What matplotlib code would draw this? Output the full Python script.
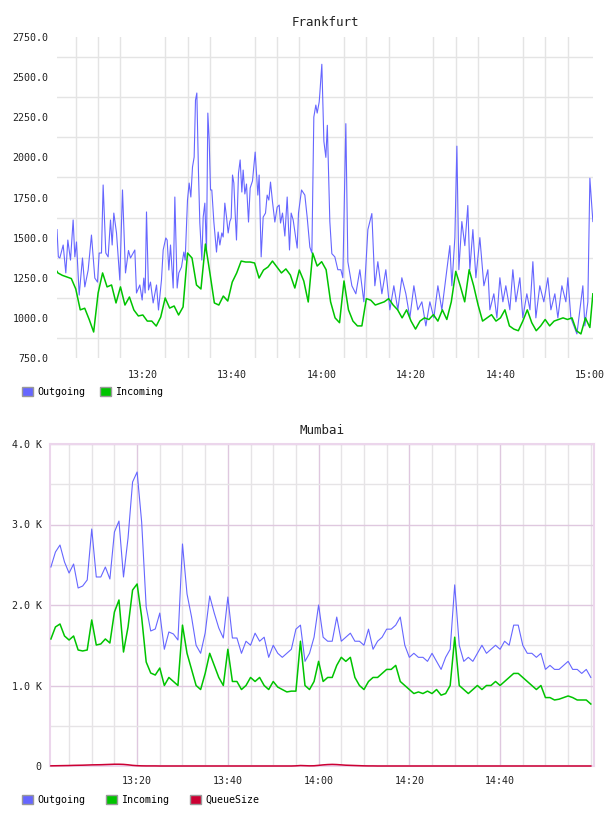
import matplotlib
matplotlib.use("Agg")
import matplotlib.pyplot as plt
from matplotlib.patches import Patch
from matplotlib.ticker import FixedLocator, FuncFormatter
import numpy as np

# minutes after 13:00
X_MIN, X_MAX = 0.8, 120.7

# ---------- Frankfurt ----------
fra_out_t = [0.8, 1.1, 1.43, 2.18, 2.77, 3.22, 3.82, 4.41, 4.79, 5.16, 5.76, 6.50, 7.02, 7.77,
             8.51, 9.26, 9.86, 10.23, 10.75, 11.12, 11.72, 12.24, 12.77, 13.14, 13.51, 14.11,
             14.85, 15.45, 16.12, 16.79, 17.24, 18.21, 18.58, 19.33, 19.85, 20.22, 20.52, 20.82,
             21.27, 21.71, 22.31, 23.06, 23.50, 24.17, 24.55, 25.14, 25.44, 25.82, 26.19, 26.79,
             27.16, 27.68, 28.05, 28.65, 29.17, 29.47, 29.99, 30.36, 30.74, 31.11, 31.48, 31.78,
             32.08, 32.45, 32.75, 33.20, 33.50, 33.87, 34.24, 34.54, 34.84, 35.14, 35.43, 35.88,
             36.48, 36.85, 37.23, 37.67, 37.97, 38.34, 38.72, 39.09, 39.46, 39.76, 40.06, 40.36,
             40.65, 40.95, 41.40, 41.77, 42.15, 42.44, 42.82, 43.19, 43.64, 44.01, 44.53, 45.13,
             45.43, 45.73, 46.02, 46.47, 46.92, 47.44, 47.81, 48.19, 48.56, 49.01, 49.53, 50.05,
             50.50, 50.80, 51.24, 51.77, 52.29, 52.81, 53.18, 53.63, 54.53, 54.82, 55.50, 56.24,
             56.76, 57.36, 57.81, 58.25, 58.70, 59.00, 59.45, 59.6, 60.04, 60.5, 60.94, 61.27,
             61.83, 62.28, 62.95, 63.62, 64.3, 64.74, 65.41, 65.86, 66.76, 67.65, 68.55, 69.44,
             70.34, 71.23, 71.9, 72.57, 73.47, 74.36, 75.26, 76.15, 77.05, 77.94, 78.84, 79.73,
             80.63, 81.52, 82.42, 83.31, 84.21, 85.1, 86.0, 86.89, 87.79, 88.68, 89.13, 89.8,
             90.25, 90.69, 91.36, 92.03, 92.7, 93.15, 93.83, 94.5, 95.39, 96.29, 97.18, 97.63,
             98.52, 99.2, 99.87, 100.54, 101.2, 102.1, 102.77, 103.45, 104.34, 105.0, 105.9,
             106.6, 107.25, 107.92, 108.8, 109.7, 110.6, 111.28, 112.17, 112.84, 113.74, 114.63,
             115.08, 115.75, 116.42, 117.1, 117.76, 118.43, 118.88, 119.55, 120.0, 120.67]
fra_out = [1550, 1380, 1373, 1454, 1280, 1485, 1360, 1610, 1380, 1473, 1142, 1373, 1193, 1298,
           1516, 1248, 1223, 1404, 1404, 1828, 1404, 1380, 1610, 1454, 1653, 1529,
           1236, 1797, 1280, 1420, 1373, 1423, 1155, 1205, 1111, 1248, 1155, 1660,
           1174, 1223, 1093, 1205, 1049, 1236, 1423, 1498, 1485, 1298, 1454, 1186,
           1753, 1186, 1280, 1317, 1410, 1360, 1734, 1840, 1753, 1940, 2002, 2357,
           2401, 1902, 1591, 1360, 1628, 1715, 1404, 2276, 2108, 1797, 1797, 1600,
           1410, 1535, 1454, 1529, 1504, 1715, 1628, 1529, 1600, 1622, 1890, 1840,
           1653, 1485, 1902, 1984, 1784, 1921, 1772, 1834, 1597, 1809, 1853, 2033,
           1902, 1765, 1890, 1380, 1628, 1653, 1765, 1734, 1846, 1722, 1597, 1690,
           1703, 1591, 1653, 1510, 1753, 1423, 1653, 1610, 1435, 1653, 1797, 1765,
           1628, 1441, 1404, 2251, 2326, 2276, 2345, 2400, 2580, 2100, 2000, 2200,
           1600, 1400, 1380, 1300, 1300, 1250, 2210, 1350, 1200, 1150, 1300, 1100,
           1550, 1650, 1200, 1350, 1150, 1300, 1050, 1200, 1050, 1250, 1150, 1000,
           1200, 1050, 1100, 950, 1100, 1000, 1200, 1050, 1250, 1450, 1200, 1500,
           2070, 1300, 1600, 1450, 1700, 1300, 1550, 1250, 1500, 1200, 1300, 1050,
           1150, 1000, 1250, 1100, 1200, 1050, 1300, 1100, 1250, 1000, 1150,
           1050, 1350, 1000, 1200, 1100, 1250, 1050, 1150, 1000, 1200, 1100,
           1250, 1000, 950, 900, 1050, 1200, 950, 1100, 1870, 1600]

fra_in_t = [0.8] + list(range(1, 121)) + [120.67]
fra_in = [1290,
          1280, 1265, 1255, 1245, 1180, 1050, 1060, 990, 912, 1155,
          1280, 1193, 1205, 1093, 1193, 1080, 1130, 1049, 1012, 1018,
          980, 980, 949, 1005, 1124, 1061, 1074, 1018, 1068, 1404,
          1373, 1205, 1180, 1460, 1280, 1093, 1080, 1136, 1105, 1223,
          1280, 1354, 1348, 1348, 1342, 1248, 1298, 1317, 1354, 1317,
          1280, 1305, 1267, 1186, 1298, 1230, 1099, 1404, 1323, 1350,
          1300, 1100, 1000, 970, 1230, 1050, 980, 950, 950, 1120,
          1110, 1080, 1090, 1100, 1120, 1080, 1050, 1000, 1050, 980,
          930, 980, 1000, 990, 1020, 980, 1050, 990, 1100, 1290,
          1200, 1100, 1300, 1200, 1080, 980, 1000, 1020, 980, 1000,
          1050, 950, 930, 920, 980, 1050, 970, 920, 950, 990,
          950, 980, 990, 1000, 990, 1000, 920, 900, 1000, 940,
          1150]

# ---------- Mumbai ----------
mum_t = list(range(1, 121))
mum_out = [2472, 2658, 2745, 2534, 2397, 2509, 2211, 2236, 2311, 2944,
           2348, 2348, 2472, 2323, 2907, 3043, 2348, 2832, 3528, 3652,
           3031, 1975, 1677, 1702, 1900, 1450, 1665, 1640, 1565, 2758,
           2137, 1851, 1500, 1400, 1652, 2112, 1900, 1714, 1590, 2099,
           1590, 1590, 1400, 1550, 1500, 1650, 1550, 1600, 1350, 1500,
           1400, 1350, 1400, 1450, 1700, 1750, 1300, 1400, 1600, 2000,
           1600, 1550, 1550, 1850, 1550, 1600, 1650, 1550, 1550, 1500,
           1700, 1450, 1550, 1600, 1700, 1700, 1750, 1850, 1500, 1350,
           1400, 1350, 1350, 1300, 1400, 1300, 1200, 1350, 1450, 2250,
           1500, 1300, 1350, 1300, 1400, 1500, 1400, 1450, 1500, 1450,
           1550, 1500, 1750, 1750, 1500, 1400, 1400, 1350, 1400, 1200,
           1250, 1200, 1200, 1250, 1300, 1200, 1200, 1150, 1200, 1100]
mum_in = [1578, 1727, 1764, 1615, 1565, 1615, 1441, 1429, 1441, 1814,
          1503, 1516, 1578, 1528, 1913, 2062, 1416, 1727, 2186, 2261,
          1850, 1292, 1155, 1130, 1217, 1000, 1100, 1050, 1000, 1750,
          1400, 1200, 1000, 950, 1150, 1400, 1250, 1100, 1000, 1450,
          1050, 1050, 950, 1000, 1100, 1050, 1100, 1000, 950, 1050,
          980, 950, 920, 930, 930, 1550, 1000, 950, 1050, 1300,
          1050, 1100, 1100, 1250, 1350, 1300, 1350, 1100, 1000, 950,
          1050, 1100, 1100, 1150, 1200, 1200, 1250, 1050, 1000, 950,
          900, 920, 900, 930, 900, 950, 880, 900, 1000, 1600,
          1000, 950, 900, 950, 1000, 950, 1000, 1000, 1050, 1000,
          1050, 1100, 1150, 1150, 1100, 1050, 1000, 950, 1000, 850,
          850, 820, 830, 850, 870, 850, 820, 820, 820, 770]
mum_queue = [2, 3, 4, 5, 6, 8, 9, 10, 12, 14,
             15, 16, 18, 20, 22, 22, 20, 15, 8, 4,
             2, 1, 1, 1, 0, 0, 0, 0, 0, 0,
             0, 0, 0, 0, 0, 0, 0, 0, 0, 0,
             0, 0, 0, 0, 0, 0, 0, 0, 0, 0,
             0, 0, 0, 0, 2, 6, 4, 2, 3, 8,
             14, 18, 20, 18, 14, 10, 8, 6, 4, 2,
             1, 1, 0, 0, 0, 0, 0, 0, 0, 0,
             0, 0, 0, 0, 0, 0, 0, 0, 0, 0,
             0, 0, 0, 0, 0, 0, 0, 0, 0, 0,
             0, 0, 0, 0, 0, 0, 0, 0, 0, 0,
             0, 0, 0, 0, 0, 0, 0, 0, 0, 0]

BLUE = '#6666ff'
GREEN = '#00c400'
RED = '#cc0033'
TXT = '#222222'
FONT = 'DejaVu Sans Mono'
FS = 7.2

plt.rcParams['font.family'] = FONT
plt.rcParams['font.size'] = FS


def hhmm(t, pos=None):
    m = int(round(t))
    return "%d:%02d" % (13 + m // 60, m % 60)


fig = plt.figure(figsize=(6.08, 8.16), dpi=100)

# --- top panel
ax1 = fig.add_axes([57/608, 1-358/816, 536/608, 321/816])
ax1.plot(fra_out_t, fra_out, color=BLUE, lw=0.8, zorder=3)
ax1.plot(fra_in_t, fra_in, color=GREEN, lw=1.1, zorder=3)
ax1.set_xlim(X_MIN, X_MAX)
ax1.set_ylim(750, 2750)
ax1.yaxis.set_major_locator(FixedLocator(np.arange(750, 2751, 250)))
ax1.yaxis.set_minor_locator(FixedLocator(np.arange(875, 2750, 250)))
ax1.yaxis.set_major_formatter(FuncFormatter(lambda v, p: "%.1f" % v))
ax1.xaxis.set_major_locator(FixedLocator([20, 40, 60, 80, 100, 120]))
ax1.xaxis.set_minor_locator(FixedLocator(np.arange(5, 121, 5)))
ax1.xaxis.set_major_formatter(FuncFormatter(hhmm))
ax1.grid(which='minor', color='#e4e4e4', lw=1.0)
ax1.set_axisbelow(True)
for s in ax1.spines.values():
    s.set_visible(False)
ax1.tick_params(which='both', length=0, colors=TXT, labelsize=FS)
ax1.tick_params(axis='y', pad=6)
ax1.tick_params(axis='x', pad=9)
ax1.set_title('Frankfurt', fontsize=9, color=TXT, pad=8)

# --- bottom panel
ax2 = fig.add_axes([50/608, 1-766/816, 544/608, 322/816])
ax2.plot(mum_t, mum_out, color=BLUE, lw=0.8, zorder=3)
ax2.plot(mum_t, mum_in, color=GREEN, lw=1.1, zorder=3)
ax2.plot(mum_t, mum_queue, color=RED, lw=1.1, zorder=4, clip_on=False)
ax2.set_xlim(X_MIN, X_MAX)
ax2.set_ylim(0, 4000)
ax2.yaxis.set_major_locator(FixedLocator([0, 1000, 2000, 3000, 4000]))
ax2.yaxis.set_minor_locator(FixedLocator([500, 1500, 2500, 3500]))
ax2.yaxis.set_major_formatter(FuncFormatter(lambda v, p: "0" if v == 0 else "%.1f K" % (v / 1000)))
ax2.xaxis.set_major_locator(FixedLocator([20, 40, 60, 80, 100]))
ax2.xaxis.set_minor_locator(FixedLocator([5, 10, 15, 25, 30, 35, 45, 50, 55, 65, 70, 75,
                                          85, 90, 95, 105, 110, 115, 120]))
ax2.xaxis.set_major_formatter(FuncFormatter(hhmm))
ax2.grid(which='minor', color='#e6e4e6', lw=1.0)
ax2.grid(which='major', color='#dfc8df', lw=1.0)
ax2.set_axisbelow(True)
for s in ax2.spines.values():
    s.set_color('#ecd6ec')
    s.set_linewidth(1.5)
ax2.tick_params(which='both', length=0, colors=TXT, labelsize=FS)
ax2.tick_params(axis='y', pad=6)
ax2.tick_params(axis='x', pad=7)
ax2.set_title('Mumbai', fontsize=9, color=TXT, pad=7)

# --- legends
def box(c, label):
    return Patch(facecolor=c, edgecolor='#999999', linewidth=1.0, label=label)

fig.legend(handles=[box(BLUE, 'Outgoing'), box(GREEN, 'Incoming')],
           loc='center left', bbox_to_anchor=(22/608, 1-392/816), ncol=2,
           frameon=False, handlelength=1.1, handleheight=1.0, handletextpad=0.4,
           columnspacing=1.5, borderpad=0, borderaxespad=0, fontsize=FS)
fig.legend(handles=[box(BLUE, 'Outgoing'), box(GREEN, 'Incoming'), box(RED, 'QueueSize')],
           loc='center left', bbox_to_anchor=(22/608, 1-800/816), ncol=3,
           frameon=False, handlelength=1.1, handleheight=1.0, handletextpad=0.4,
           columnspacing=2.1, borderpad=0, borderaxespad=0, fontsize=FS)

fig.savefig('out.png', dpi=100, facecolor='white')
